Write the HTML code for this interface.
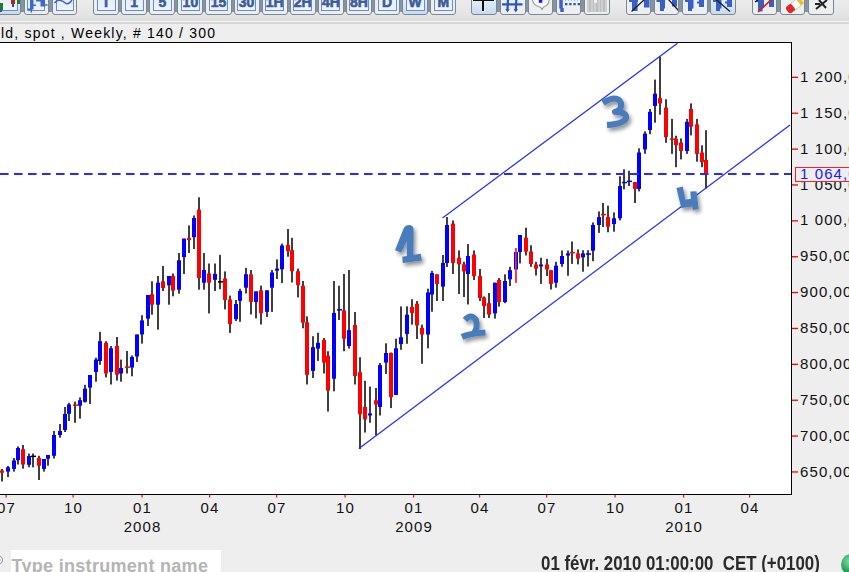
<!DOCTYPE html>
<html><head><meta charset="utf-8"><style>
html,body{margin:0;padding:0;}
body{width:849px;height:572px;overflow:hidden;position:relative;background:#eeeeee;font-family:"Liberation Sans", sans-serif;}
.tb{position:absolute;left:0;top:0;width:849px;height:21px;background:linear-gradient(#ececec,#e4e4e4 70%,#dcdcdc);}
.sep{position:absolute;left:0;top:21px;width:849px;height:1px;background:#f6f6f6;}
.sep2{position:absolute;left:0;top:22px;width:849px;height:1.6px;background:#d5d5d5;}
.strip{position:absolute;top:0;height:12px;background:#8793a0;}
.btn{position:absolute;top:-10px;height:25px;border:1px solid #7a8795;border-left-width:1.5px;border-right-width:1.5px;border-radius:0 0 3px 3px;background:#eceef0;box-sizing:border-box;overflow:hidden;}
.btn.sel{background:linear-gradient(#e2ecf7 40%,#c9dbef);}
.ibox{position:absolute;left:2.5px;right:2.5px;top:0;height:19.6px;border:1px solid #5e8edc;border-top:none;background:linear-gradient(#e2eaf6,#eef3fb);box-sizing:border-box;}
.ic{position:absolute;}
.inn{position:absolute;left:0;top:9px;width:100%;height:14px;}
.bt{position:absolute;left:0;right:0;top:-5.3px;text-align:center;font-weight:bold;font-size:14px;line-height:14px;color:#3d5c94;white-space:nowrap;-webkit-text-stroke:0.6px #3d5c94;}
.title{position:absolute;left:1px;top:25.2px;font-size:14px;line-height:16px;color:#000;white-space:nowrap;letter-spacing:1.2px;}
.pl{position:absolute;left:800px;font-size:15px;line-height:16px;color:#111;white-space:nowrap;letter-spacing:1.1px;}
.xl{position:absolute;top:500px;width:40px;text-align:center;font-size:15px;line-height:16px;color:#111;letter-spacing:1.1px;text-indent:1.1px;}
.yl{position:absolute;top:518.5px;width:60px;text-align:center;font-size:15px;line-height:16px;color:#111;letter-spacing:1.1px;text-indent:1.1px;}
.pbox{position:absolute;left:795px;top:166.5px;width:60px;height:15px;border:1.5px solid #ff2020;box-sizing:border-box;background:#eeeeee;}
.ptxt{position:absolute;left:800px;top:165.6px;font-size:15px;line-height:16px;color:#1a1aff;white-space:nowrap;letter-spacing:1.1px;}
.inp{position:absolute;left:11px;top:550px;width:210px;height:30px;background:#fff;}
.inpt{position:absolute;left:11.5px;top:555.5px;font-size:18px;line-height:20px;font-weight:bold;color:#b4b4b4;white-space:nowrap;letter-spacing:0.3px;}
.stat{position:absolute;left:541px;top:553.1px;font-size:20px;line-height:20px;font-weight:bold;color:#2a2a2a;white-space:nowrap;transform-origin:0 0;transform:scaleX(0.843);}
.ball{position:absolute;left:841px;top:553.5px;width:21px;height:21px;border-radius:50%;background:radial-gradient(circle at 40% 35%,#7fe0a0,#1a9a50 60%,#0a6a30);}
</style></head><body>
<div class="tb"></div><div class="sep"></div><div class="sep2"></div>
<div class="strip" style="left:0px;width:77px"></div><div class="strip" style="left:93px;width:363px"></div><div class="strip" style="left:471px;width:138px"></div><div class="strip" style="left:625.5px;width:110.5px"></div><div class="strip" style="left:751.5px;width:82.0px"></div><div class="btn sel box" style="left:-6px;width:27.2px"><div class="ibox"></div><div class="inn"><div class="ic" style="left:5px;top:3px;width:3px;height:7px;background:#1f7a30"></div><div class="ic" style="left:5px;top:10px;width:2px;height:2px;background:#2a55b0"></div><div class="ic" style="left:15.5px;top:0;width:4px;height:4px;background:#a82828"></div><div class="ic" style="left:17px;top:4px;width:1.5px;height:3px;background:#2a4aa0"></div><div class="ic" style="left:21.5px;top:0;width:4px;height:4px;background:#1f7a30"></div></div></div><div class="btn box" style="left:23.9px;width:25px"><div class="ibox"></div><div class="inn"><svg width="25" height="14" style="position:absolute;left:0;top:0"><path d="M5,0 L8.5,0 L8.5,9.5 L7,9.5 L7,12.5 L5.5,12.5 L5.5,10 L3,10 L3,8.5 L5,8.5 Z M8.5,4.5 L11,4.5 L11,6 L8.5,6 Z M11,0 L17,0 L17,1.5 L11,1.5 Z M15.5,0 L20,0 L20,6.5 L15.5,6.5 Z M20,4.3 L22.5,4.3 L22.5,5.8 L20,5.8 Z" fill="#3f6acb"/></svg></div></div><div class="btn box" style="left:52px;width:25px"><div class="ibox"></div><div class="inn"><svg width="25" height="14" style="position:absolute;left:0;top:0"><path d="M1.5,3 Q4,0 6.5,0 Q10,1 13,3.5 Q16,4.5 19,0" fill="none" stroke="#3a66c8" stroke-width="1.4"/></svg></div></div><div class="btn box" style="left:93.0px;width:26.2px"><div class="ibox"></div><div class="inn"><span class="bt">T</span></div></div><div class="btn box" style="left:121.1px;width:26.2px"><div class="ibox"></div><div class="inn"><span class="bt">1</span></div></div><div class="btn box" style="left:149.2px;width:26.2px"><div class="ibox"></div><div class="inn"><span class="bt">5</span></div></div><div class="btn box" style="left:177.3px;width:26.2px"><div class="ibox"></div><div class="inn"><span class="bt">10</span></div></div><div class="btn box" style="left:205.4px;width:26.2px"><div class="ibox"></div><div class="inn"><span class="bt">15</span></div></div><div class="btn box" style="left:233.5px;width:26.2px"><div class="ibox"></div><div class="inn"><span class="bt">30</span></div></div><div class="btn box" style="left:261.6px;width:26.2px"><div class="ibox"></div><div class="inn"><span class="bt">1H</span></div></div><div class="btn box" style="left:289.70000000000005px;width:26.2px"><div class="ibox"></div><div class="inn"><span class="bt">2H</span></div></div><div class="btn box" style="left:317.8px;width:26.2px"><div class="ibox"></div><div class="inn"><span class="bt">4H</span></div></div><div class="btn box" style="left:345.9px;width:26.2px"><div class="ibox"></div><div class="inn"><span class="bt">8H</span></div></div><div class="btn box" style="left:374.0px;width:26.2px"><div class="ibox"></div><div class="inn"><span class="bt">D</span></div></div><div class="btn sel box" style="left:402.1px;width:26.2px"><div class="ibox"></div><div class="inn"><span class="bt">W</span></div></div><div class="btn box" style="left:430.20000000000005px;width:26.2px"><div class="ibox"></div><div class="inn"><span class="bt">M</span></div></div><div class="btn sel" style="left:471px;width:26px"><div class="inn"><div class="ic" style="left:10.4px;top:0;width:1.8px;height:11px;background:#111"></div><div class="ic" style="left:1px;top:-1px;width:21px;height:2.2px;background:#111"></div></div></div><div class="btn" style="left:500px;width:25.5px"><div class="inn"><svg width="26" height="14" style="position:absolute;left:0;top:0"><path d="M1,4.3 L21.5,4.3 M7,0 L6.5,10 M15.3,0 L14.8,10" stroke="#2a55c8" stroke-width="2.2" fill="none"/><path d="M4.3,9 L6.5,12.5 L8.7,9 Z M12.6,9 L14.8,12.5 L17,9 Z" fill="#2a55c8"/></svg></div></div><div class="btn" style="left:528px;width:25px"><div class="inn"><svg width="26" height="14" style="position:absolute;left:0;top:0"><path d="M3,-2 L20,-2 Q21,5 14.5,7 L13,9.5 L11.5,7.2 Q4,6 3,-2 Z" fill="#fafafa" stroke="#9a9a9a" stroke-width="1.1"/><rect x="9.8" y="-1" width="3.5" height="3.8" fill="#1020ff"/></svg></div></div><div class="btn" style="left:556px;width:25px"><div class="inn"><svg width="26" height="14" style="position:absolute;left:0;top:0"><path d="M4,0 L4,8.5 M5,8 L5,12" stroke="#3a62c8" stroke-width="3.5"/><path d="M8,4.2 L24,4.2" stroke="#2f55c0" stroke-width="2.2" stroke-dasharray="2.4 1.8"/><path d="M8,0.5 L22,0.5" stroke="#8aa8e8" stroke-width="0.8" stroke-dasharray="1 2"/></svg></div></div><div class="btn" style="left:584px;width:25.5px"><div class="inn"><div class="ic" style="left:2px;top:0;width:20px;height:12px;background:repeating-linear-gradient(90deg,#cfcfcf 0 2px,#bdbdbd 2px 3.5px)"></div><div class="ic" style="left:9px;top:0;width:3px;height:3px;background:#f0f0f0"></div></div></div><div class="btn" style="left:625.5px;width:25.7px"><div class="inn"><svg width="26" height="14" style="position:absolute;left:0;top:0"><path d="M2,0 L11,0 L11,2 L10.5,2 L10.5,11 L5,11 L5,2 L2,2 Z M17,0 L22.5,0 L22.5,7.5 L17,7.5 Z" fill="#3a5fc4"/><line x1="4.5" y1="11.5" x2="18" y2="-1" stroke="#1e1e1e" stroke-width="1.3"/></svg></div></div><div class="btn" style="left:653.6px;width:25.7px"><div class="inn"><svg width="26" height="14" style="position:absolute;left:0;top:0"><path d="M1.5,0 L10,0 L10,8.5 L9,8.5 L9,11 L5,11 L5,2 L1.5,2 Z M17,0 L22,0 L22,6.5 L17,6.5 Z" fill="#3a5fc4"/><line x1="13" y1="-1" x2="23.5" y2="10.5" stroke="#1e1e1e" stroke-width="1.3"/></svg></div></div><div class="btn" style="left:682px;width:25.7px"><div class="inn"><svg width="26" height="14" style="position:absolute;left:0;top:0"><path d="M2,0 L10.5,0 L10.5,8.5 L9,8.5 L9,11 L5,11 L5,2 L2,2 Z M14,1.5 L16,1.5 L16,0 L21,0 L21,7 L16,7 L16,3.5 L14,3.5 Z" fill="#3a5fc4"/></svg></div></div><div class="btn sel" style="left:710px;width:25.7px"><div class="inn"><svg width="26" height="14" style="position:absolute;left:0;top:0"><path d="M2,0 L10.5,0 L10.5,8.5 L9,8.5 L9,11 L5,11 L5,2 L2,2 Z M14,1.5 L16,1.5 L16,0 L21,0 L21,7 L16,7 L16,3.5 L14,3.5 Z" fill="#3a5fc4"/><line x1="4.5" y1="-1" x2="19" y2="11.5" stroke="#1e1e1e" stroke-width="1.3"/></svg></div></div><div class="btn" style="left:751.5px;width:25px"><div class="inn"><svg width="26" height="14" style="position:absolute;left:0;top:0"><path d="M3,0 L11,0 L11,8 L9.5,8 L9.5,11.5 L5,11.5 L5,2 L3,2 Z M16,0 L21,0 L21,7 L16,7 Z" fill="#3a5fc4"/><path d="M2,2 L5,0" stroke="#222" stroke-width="1.4"/><line x1="5" y1="12" x2="19" y2="-1" stroke="#e01818" stroke-width="1.6"/></svg></div></div><div class="btn" style="left:780px;width:25px"><div class="inn"><svg width="26" height="14" style="position:absolute;left:0;top:0"><g transform="translate(13.5,5.5) rotate(-38)"><rect x="-9" y="-4" width="8" height="8" rx="2.5" fill="#e02828"/><rect x="-1.5" y="-4" width="7" height="8" fill="#fafafa" stroke="#bbbbbb" stroke-width="0.7"/><rect x="5.5" y="-4" width="3.5" height="8" fill="#f0c020"/></g></svg></div></div><div class="btn" style="left:808px;width:25.5px"><div class="inn"><svg width="26" height="14" style="position:absolute;left:0;top:0"><path d="M7,9 L18,0 M10,0 L17,8 M6,4 L11,4" stroke="#222" stroke-width="2" fill="none"/></svg></div></div>
<div class="title">ld, spot , Weekly, # 140 / 300</div>
<svg width="849" height="572" style="position:absolute;left:0;top:0"><rect x="0" y="42" width="792" height="453" fill="#fff"/><g fill="#000"><rect x="1.25" y="469.0" width="1.5" height="12.5"/><rect x="7.25" y="466.0" width="1.5" height="11.0"/><rect x="13.25" y="458.0" width="1.5" height="13.6"/><rect x="17.25" y="446.4" width="1.5" height="18.1"/><rect x="22.25" y="445.0" width="1.5" height="23.7"/><rect x="28.25" y="453.5" width="1.5" height="13.8"/><rect x="32.25" y="453.5" width="1.5" height="13.8"/><rect x="38.25" y="455.8" width="1.5" height="24.2"/><rect x="43.25" y="459.0" width="1.5" height="12.6"/><rect x="47.25" y="455.0" width="1.5" height="10.7"/><rect x="53.25" y="431.0" width="1.5" height="27.5"/><rect x="59.25" y="424.0" width="1.5" height="13.7"/><rect x="64.25" y="407.0" width="1.5" height="25.0"/><rect x="68.25" y="402.8" width="1.5" height="18.2"/><rect x="74.25" y="401.6" width="1.5" height="21.2"/><rect x="79.25" y="397.4" width="1.5" height="21.2"/><rect x="84.25" y="384.8" width="1.5" height="17.8"/><rect x="89.25" y="375.0" width="1.5" height="29.0"/><rect x="95.25" y="357.7" width="1.5" height="24.0"/><rect x="99.25" y="331.8" width="1.5" height="33.0"/><rect x="105.25" y="341.2" width="1.5" height="36.2"/><rect x="110.25" y="346.0" width="1.5" height="38.5"/><rect x="116.25" y="337.0" width="1.5" height="43.6"/><rect x="120.25" y="359.6" width="1.5" height="22.1"/><rect x="126.25" y="351.0" width="1.5" height="22.5"/><rect x="131.25" y="355.4" width="1.5" height="20.9"/><rect x="136.25" y="334.5" width="1.5" height="27.5"/><rect x="141.25" y="315.2" width="1.5" height="28.4"/><rect x="147.25" y="295.0" width="1.5" height="31.0"/><rect x="151.25" y="281.3" width="1.5" height="33.4"/><rect x="157.25" y="276.0" width="1.5" height="53.6"/><rect x="162.25" y="266.0" width="1.5" height="25.0"/><rect x="168.25" y="276.0" width="1.5" height="28.7"/><rect x="172.25" y="273.5" width="1.5" height="22.8"/><rect x="178.25" y="253.0" width="1.5" height="40.7"/><rect x="183.25" y="238.6" width="1.5" height="35.4"/><rect x="188.25" y="225.4" width="1.5" height="27.6"/><rect x="193.25" y="215.5" width="1.5" height="33.5"/><rect x="198.25" y="197.3" width="1.5" height="92.4"/><rect x="203.25" y="253.0" width="1.5" height="36.7"/><rect x="208.25" y="263.5" width="1.5" height="49.9"/><rect x="214.25" y="263.5" width="1.5" height="27.5"/><rect x="219.25" y="254.8" width="1.5" height="34.4"/><rect x="224.25" y="271.4" width="1.5" height="38.0"/><rect x="229.25" y="295.6" width="1.5" height="37.3"/><rect x="235.25" y="300.0" width="1.5" height="21.0"/><rect x="239.25" y="288.8" width="1.5" height="33.0"/><rect x="245.25" y="267.8" width="1.5" height="25.7"/><rect x="250.25" y="270.0" width="1.5" height="44.5"/><rect x="255.25" y="291.4" width="1.5" height="27.0"/><rect x="260.25" y="285.6" width="1.5" height="38.9"/><rect x="266.25" y="290.3" width="1.5" height="26.7"/><rect x="271.25" y="270.0" width="1.5" height="41.9"/><rect x="276.25" y="259.4" width="1.5" height="19.6"/><rect x="281.25" y="243.6" width="1.5" height="39.4"/><rect x="287.25" y="229.0" width="1.5" height="27.7"/><rect x="291.25" y="237.8" width="1.5" height="44.7"/><rect x="297.25" y="268.6" width="1.5" height="28.8"/><rect x="302.25" y="281.0" width="1.5" height="47.3"/><rect x="306.25" y="316.3" width="1.5" height="68.2"/><rect x="312.25" y="336.2" width="1.5" height="41.8"/><rect x="317.25" y="332.8" width="1.5" height="28.1"/><rect x="323.25" y="338.0" width="1.5" height="35.5"/><rect x="327.25" y="351.2" width="1.5" height="60.3"/><rect x="333.25" y="281.0" width="1.5" height="110.3"/><rect x="338.25" y="285.7" width="1.5" height="34.3"/><rect x="343.25" y="274.0" width="1.5" height="77.2"/><rect x="348.25" y="270.0" width="1.5" height="78.6"/><rect x="354.25" y="312.0" width="1.5" height="72.5"/><rect x="359.25" y="357.2" width="1.5" height="91.8"/><rect x="364.25" y="380.8" width="1.5" height="51.7"/><rect x="369.25" y="386.6" width="1.5" height="36.2"/><rect x="375.25" y="388.0" width="1.5" height="47.2"/><rect x="379.25" y="363.0" width="1.5" height="52.5"/><rect x="385.25" y="343.3" width="1.5" height="30.7"/><rect x="390.25" y="352.5" width="1.5" height="55.6"/><rect x="395.25" y="338.7" width="1.5" height="56.2"/><rect x="400.25" y="306.4" width="1.5" height="43.4"/><rect x="406.25" y="306.3" width="1.5" height="37.5"/><rect x="411.25" y="299.2" width="1.5" height="25.5"/><rect x="416.25" y="301.0" width="1.5" height="38.0"/><rect x="421.25" y="324.6" width="1.5" height="39.2"/><rect x="427.25" y="288.7" width="1.5" height="59.6"/><rect x="431.25" y="270.9" width="1.5" height="40.8"/><rect x="436.25" y="274.3" width="1.5" height="26.7"/><rect x="442.25" y="255.0" width="1.5" height="46.0"/><rect x="446.25" y="217.0" width="1.5" height="50.0"/><rect x="452.25" y="220.5" width="1.5" height="53.5"/><rect x="458.25" y="250.4" width="1.5" height="43.6"/><rect x="463.25" y="261.7" width="1.5" height="35.3"/><rect x="467.25" y="244.0" width="1.5" height="60.5"/><rect x="473.25" y="250.4" width="1.5" height="29.6"/><rect x="479.25" y="269.0" width="1.5" height="32.0"/><rect x="483.25" y="296.4" width="1.5" height="21.6"/><rect x="488.25" y="293.0" width="1.5" height="25.0"/><rect x="494.25" y="282.7" width="1.5" height="35.9"/><rect x="498.25" y="278.0" width="1.5" height="28.6"/><rect x="504.25" y="274.3" width="1.5" height="28.9"/><rect x="509.25" y="266.8" width="1.5" height="19.2"/><rect x="515.25" y="248.0" width="1.5" height="34.7" fill="#ff3030"/><rect x="519.25" y="235.0" width="1.5" height="28.4"/><rect x="525.25" y="227.7" width="1.5" height="27.8"/><rect x="530.25" y="245.2" width="1.5" height="21.6"/><rect x="535.25" y="261.8" width="1.5" height="13.7"/><rect x="540.25" y="257.7" width="1.5" height="26.2"/><rect x="546.25" y="258.9" width="1.5" height="17.1"/><rect x="550.25" y="270.2" width="1.5" height="19.3"/><rect x="555.25" y="261.8" width="1.5" height="25.9"/><rect x="561.25" y="250.5" width="1.5" height="16.3"/><rect x="567.25" y="250.5" width="1.5" height="25.2"/><rect x="571.25" y="241.5" width="1.5" height="22.4"/><rect x="577.25" y="249.4" width="1.5" height="15.0"/><rect x="582.25" y="250.2" width="1.5" height="21.5"/><rect x="587.25" y="250.2" width="1.5" height="16.3"/><rect x="592.25" y="222.4" width="1.5" height="38.8"/><rect x="598.25" y="211.4" width="1.5" height="21.5"/><rect x="602.25" y="203.0" width="1.5" height="24.0"/><rect x="607.25" y="205.7" width="1.5" height="26.6"/><rect x="613.25" y="212.4" width="1.5" height="19.3"/><rect x="619.25" y="176.3" width="1.5" height="44.1"/><rect x="623.25" y="169.3" width="1.5" height="20.0"/><rect x="628.25" y="170.8" width="1.5" height="15.2"/><rect x="634.25" y="182.0" width="1.5" height="21.0"/><rect x="638.25" y="148.3" width="1.5" height="43.1"/><rect x="644.25" y="131.3" width="1.5" height="22.5"/><rect x="649.25" y="109.0" width="1.5" height="25.2"/><rect x="654.25" y="79.6" width="1.5" height="43.1"/><rect x="659.25" y="56.5" width="1.5" height="58.2"/><rect x="665.25" y="99.2" width="1.5" height="43.6"/><rect x="671.25" y="118.9" width="1.5" height="35.0"/><rect x="675.25" y="135.7" width="1.5" height="31.5"/><rect x="680.25" y="138.4" width="1.5" height="21.0"/><rect x="686.25" y="118.9" width="1.5" height="35.0"/><rect x="690.25" y="103.4" width="1.5" height="32.0"/><rect x="696.25" y="118.9" width="1.5" height="42.8"/><rect x="701.25" y="145.3" width="1.5" height="21.9"/><rect x="705.25" y="130.2" width="1.5" height="58.3"/></g><g><rect x="0" y="470.5" width="4" height="2.2" fill="#ff0000"/><rect x="6" y="467.3" width="4" height="4.3" fill="#0000ff"/><rect x="12" y="460.5" width="4" height="8.4" fill="#0000ff"/><rect x="16" y="448.0" width="4" height="12.2" fill="#0000ff"/><rect x="21" y="449.2" width="4" height="15.3" fill="#ff0000"/><rect x="27" y="456.0" width="4" height="8.8" fill="#0000ff"/><rect x="31" y="455.6" width="5" height="1.5" fill="#000000"/><rect x="37" y="457.9" width="4" height="7.8" fill="#ff0000"/><rect x="42" y="459.0" width="4" height="9.9" fill="#0000ff"/><rect x="46" y="455.0" width="4" height="3.7" fill="#0000ff"/><rect x="52" y="435.0" width="4" height="20.8" fill="#0000ff"/><rect x="58" y="431.0" width="4" height="4.0" fill="#0000ff"/><rect x="63" y="414.0" width="4" height="16.0" fill="#0000ff"/><rect x="67" y="404.4" width="4" height="9.4" fill="#0000ff"/><rect x="73" y="404.4" width="5" height="1.5" fill="#ff0000"/><rect x="78" y="400.2" width="4" height="5.5" fill="#0000ff"/><rect x="83" y="388.7" width="4" height="13.1" fill="#0000ff"/><rect x="88" y="375.0" width="4" height="12.6" fill="#0000ff"/><rect x="94" y="359.6" width="4" height="12.3" fill="#0000ff"/><rect x="98" y="341.2" width="4" height="19.8" fill="#0000ff"/><rect x="104" y="342.8" width="4" height="30.7" fill="#ff0000"/><rect x="109" y="348.3" width="4" height="23.6" fill="#0000ff"/><rect x="115" y="346.0" width="4" height="28.7" fill="#ff0000"/><rect x="119" y="368.0" width="4" height="5.5" fill="#0000ff"/><rect x="125" y="366.4" width="5" height="1.5" fill="#ff0000"/><rect x="130" y="357.0" width="4" height="10.5" fill="#0000ff"/><rect x="135" y="334.5" width="4" height="22.0" fill="#0000ff"/><rect x="140" y="320.4" width="4" height="14.0" fill="#0000ff"/><rect x="146" y="295.0" width="4" height="23.6" fill="#0000ff"/><rect x="150" y="294.2" width="4" height="10.5" fill="#ff0000"/><rect x="156" y="282.7" width="4" height="22.0" fill="#0000ff"/><rect x="161" y="281.3" width="4" height="6.7" fill="#ff0000"/><rect x="167" y="276.0" width="4" height="9.3" fill="#0000ff"/><rect x="171" y="276.0" width="4" height="14.5" fill="#ff0000"/><rect x="177" y="260.3" width="4" height="29.4" fill="#0000ff"/><rect x="182" y="238.6" width="4" height="18.4" fill="#0000ff"/><rect x="187" y="238.0" width="4" height="2.0" fill="#ff0000"/><rect x="192" y="218.0" width="4" height="19.2" fill="#0000ff"/><rect x="197" y="209.7" width="4" height="68.3" fill="#ff0000"/><rect x="202" y="270.0" width="4" height="12.7" fill="#0000ff"/><rect x="207" y="273.5" width="4" height="9.2" fill="#ff0000"/><rect x="213" y="274.0" width="4" height="5.8" fill="#0000ff"/><rect x="218" y="281.1" width="5" height="1.5" fill="#000000"/><rect x="223" y="278.5" width="4" height="21.5" fill="#ff0000"/><rect x="228" y="299.5" width="4" height="24.7" fill="#ff0000"/><rect x="234" y="304.0" width="4" height="15.2" fill="#0000ff"/><rect x="238" y="290.9" width="4" height="9.9" fill="#0000ff"/><rect x="244" y="274.3" width="4" height="13.4" fill="#0000ff"/><rect x="249" y="274.3" width="4" height="27.6" fill="#ff0000"/><rect x="254" y="291.4" width="4" height="10.5" fill="#0000ff"/><rect x="259" y="290.3" width="4" height="22.9" fill="#ff0000"/><rect x="265" y="290.3" width="4" height="21.6" fill="#0000ff"/><rect x="270" y="272.5" width="4" height="15.2" fill="#0000ff"/><rect x="275" y="268.6" width="4" height="2.1" fill="#0000ff"/><rect x="280" y="245.5" width="4" height="23.8" fill="#0000ff"/><rect x="286" y="245.0" width="4" height="6.0" fill="#ff0000"/><rect x="290" y="250.2" width="4" height="21.0" fill="#ff0000"/><rect x="296" y="271.2" width="4" height="13.8" fill="#ff0000"/><rect x="301" y="285.7" width="4" height="37.0" fill="#ff0000"/><rect x="305" y="322.3" width="4" height="52.5" fill="#ff0000"/><rect x="311" y="347.2" width="4" height="23.7" fill="#0000ff"/><rect x="316" y="342.8" width="4" height="5.8" fill="#0000ff"/><rect x="322" y="339.9" width="4" height="22.6" fill="#ff0000"/><rect x="326" y="355.6" width="4" height="35.0" fill="#ff0000"/><rect x="332" y="313.0" width="4" height="65.7" fill="#0000ff"/><rect x="337" y="309.1" width="5" height="1.5" fill="#0000ff"/><rect x="342" y="310.5" width="4" height="28.3" fill="#ff0000"/><rect x="347" y="330.2" width="4" height="15.8" fill="#0000ff"/><rect x="353" y="325.0" width="4" height="51.1" fill="#ff0000"/><rect x="358" y="372.2" width="4" height="42.0" fill="#ff0000"/><rect x="363" y="407.0" width="4" height="12.4" fill="#ff0000"/><rect x="368" y="413.4" width="4" height="2.1" fill="#0000ff"/><rect x="374" y="400.3" width="4" height="4.2" fill="#ff0000"/><rect x="378" y="365.1" width="4" height="41.9" fill="#0000ff"/><rect x="384" y="353.0" width="4" height="9.5" fill="#0000ff"/><rect x="389" y="353.0" width="4" height="44.1" fill="#ff0000"/><rect x="394" y="348.3" width="4" height="46.6" fill="#0000ff"/><rect x="399" y="337.2" width="4" height="6.9" fill="#0000ff"/><rect x="405" y="314.7" width="4" height="19.2" fill="#0000ff"/><rect x="410" y="307.0" width="4" height="5.9" fill="#ff0000"/><rect x="415" y="303.7" width="4" height="21.8" fill="#ff0000"/><rect x="420" y="327.8" width="4" height="6.7" fill="#ff0000"/><rect x="426" y="292.5" width="4" height="42.0" fill="#0000ff"/><rect x="430" y="273.0" width="4" height="21.5" fill="#0000ff"/><rect x="435" y="274.3" width="4" height="9.7" fill="#ff0000"/><rect x="441" y="263.0" width="4" height="23.6" fill="#0000ff"/><rect x="445" y="225.0" width="4" height="38.0" fill="#0000ff"/><rect x="451" y="223.6" width="4" height="39.4" fill="#ff0000"/><rect x="457" y="257.7" width="4" height="6.6" fill="#ff0000"/><rect x="462" y="264.3" width="4" height="7.1" fill="#ff0000"/><rect x="466" y="256.0" width="4" height="18.0" fill="#0000ff"/><rect x="472" y="254.6" width="4" height="21.5" fill="#ff0000"/><rect x="478" y="276.0" width="4" height="22.0" fill="#ff0000"/><rect x="482" y="297.5" width="4" height="8.5" fill="#ff0000"/><rect x="487" y="303.2" width="4" height="11.3" fill="#ff0000"/><rect x="493" y="282.7" width="4" height="30.7" fill="#0000ff"/><rect x="497" y="280.0" width="4" height="22.0" fill="#ff0000"/><rect x="503" y="281.0" width="4" height="21.0" fill="#0000ff"/><rect x="508" y="270.2" width="4" height="9.1" fill="#0000ff"/><rect x="514" y="252.0" width="4" height="17.5" fill="#0000ff"/><rect x="518" y="235.0" width="4" height="17.0" fill="#0000ff"/><rect x="524" y="237.7" width="4" height="13.9" fill="#ff0000"/><rect x="529" y="251.6" width="4" height="12.4" fill="#ff0000"/><rect x="534" y="264.5" width="4" height="4.1" fill="#ff0000"/><rect x="539" y="264.5" width="4" height="1.9" fill="#0000ff"/><rect x="545" y="264.5" width="4" height="5.0" fill="#ff0000"/><rect x="549" y="270.2" width="4" height="13.7" fill="#ff0000"/><rect x="554" y="265.7" width="4" height="17.0" fill="#0000ff"/><rect x="560" y="256.0" width="4" height="8.0" fill="#0000ff"/><rect x="566" y="253.4" width="4" height="2.1" fill="#0000ff"/><rect x="570" y="251.9" width="5" height="1.5" fill="#ff0000"/><rect x="576" y="253.4" width="4" height="5.2" fill="#ff0000"/><rect x="581" y="253.4" width="4" height="3.9" fill="#0000ff"/><rect x="586" y="253.3" width="5" height="1.5" fill="#0000ff"/><rect x="591" y="225.0" width="4" height="25.7" fill="#0000ff"/><rect x="597" y="217.1" width="4" height="7.9" fill="#0000ff"/><rect x="601" y="213.8" width="5" height="1.5" fill="#ff0000"/><rect x="606" y="217.0" width="4" height="9.7" fill="#ff0000"/><rect x="612" y="218.3" width="4" height="5.7" fill="#0000ff"/><rect x="618" y="186.0" width="4" height="32.3" fill="#0000ff"/><rect x="622" y="181.8" width="5" height="1.5" fill="#0000ff"/><rect x="627" y="180.6" width="5" height="1.5" fill="#0000ff"/><rect x="633" y="182.0" width="4" height="6.9" fill="#ff0000"/><rect x="637" y="152.5" width="4" height="36.4" fill="#0000ff"/><rect x="643" y="133.6" width="4" height="15.8" fill="#0000ff"/><rect x="648" y="111.8" width="4" height="18.2" fill="#0000ff"/><rect x="653" y="93.7" width="4" height="12.2" fill="#0000ff"/><rect x="658" y="98.1" width="4" height="5.3" fill="#ff0000"/><rect x="664" y="107.6" width="4" height="29.4" fill="#ff0000"/><rect x="670" y="138.4" width="5" height="1.5" fill="#ff0000"/><rect x="674" y="139.0" width="4" height="6.2" fill="#ff0000"/><rect x="679" y="142.6" width="4" height="8.4" fill="#ff0000"/><rect x="685" y="121.8" width="4" height="29.2" fill="#0000ff"/><rect x="689" y="109.0" width="4" height="17.7" fill="#ff0000"/><rect x="695" y="124.4" width="4" height="29.5" fill="#ff0000"/><rect x="700" y="152.6" width="4" height="9.4" fill="#ff0000"/><rect x="704" y="160.0" width="4" height="13.5" fill="#ff0000"/></g><rect x="515" y="248" width="1.6" height="34.8" fill="#ff3030"/><line x1="442.5" y1="218" x2="677.5" y2="43.3" stroke="#1a2aff" stroke-width="1.15"/><line x1="359" y1="448.5" x2="790" y2="125" stroke="#1a2aff" stroke-width="1.15"/><line x1="0" y1="174" x2="791" y2="174" stroke="#2a2aff" stroke-width="2" stroke-dasharray="8.6 5.4"/><rect x="0" y="42" width="792" height="1" fill="#000"/><rect x="791" y="42" width="1" height="453" fill="#000"/><rect x="0" y="494" width="792" height="1" fill="#000"/><rect x="792" y="76.7" width="6" height="1.3" fill="#ff0000"/><rect x="792" y="112.6" width="6" height="1.3" fill="#ff0000"/><rect x="792" y="148.5" width="6" height="1.3" fill="#ff0000"/><rect x="792" y="184.3" width="6" height="1.3" fill="#ff0000"/><rect x="792" y="220.2" width="6" height="1.3" fill="#ff0000"/><rect x="792" y="256.1" width="6" height="1.3" fill="#ff0000"/><rect x="792" y="291.9" width="6" height="1.3" fill="#ff0000"/><rect x="792" y="327.8" width="6" height="1.3" fill="#ff0000"/><rect x="792" y="363.7" width="6" height="1.3" fill="#ff0000"/><rect x="792" y="399.6" width="6" height="1.3" fill="#ff0000"/><rect x="792" y="435.4" width="6" height="1.3" fill="#ff0000"/><rect x="792" y="471.3" width="6" height="1.3" fill="#ff0000"/><rect x="5.5" y="495" width="1.2" height="2.5" fill="#ff0000"/><rect x="72.5" y="495" width="1.2" height="2.5" fill="#ff0000"/><rect x="141.5" y="495" width="1.2" height="2.5" fill="#ff0000"/><rect x="209.0" y="495" width="1.2" height="2.5" fill="#ff0000"/><rect x="276.0" y="495" width="1.2" height="2.5" fill="#ff0000"/><rect x="344.5" y="495" width="1.2" height="2.5" fill="#ff0000"/><rect x="413.0" y="495" width="1.2" height="2.5" fill="#ff0000"/><rect x="479.0" y="495" width="1.2" height="2.5" fill="#ff0000"/><rect x="546.0" y="495" width="1.2" height="2.5" fill="#ff0000"/><rect x="614.5" y="495" width="1.2" height="2.5" fill="#ff0000"/><rect x="683.0" y="495" width="1.2" height="2.5" fill="#ff0000"/><rect x="749.0" y="495" width="1.2" height="2.5" fill="#ff0000"/><defs><filter id="sh" filterUnits="userSpaceOnUse" x="0" y="0" width="849" height="572"><feGaussianBlur in="SourceAlpha" stdDeviation="2.2"/><feOffset dx="2" dy="3" result="b"/><feComponentTransfer><feFuncA type="linear" slope="0.45"/></feComponentTransfer><feMerge><feMergeNode/><feMergeNode in="SourceGraphic"/></feMerge></filter></defs><g filter="url(#sh)" fill="#4a7cbc"><path d="M403,230 Q404.5,225 409.5,225 Q414,225.3 413.6,231 L413.4,254.8 L420.8,253.8 L421.8,260.4 L402.8,263 L402.2,256.8 L406.8,256.1 L406.8,241 L401.2,252.6 L395,250.2 Z"/></g><path d="M465,320 Q471,313 476,320 Q478,328 474,333 M462,337 Q469,333.5 485.5,332.5" fill="none" stroke="#4a7cbc" stroke-width="6" stroke-linecap="butt" stroke-linejoin="round" filter="url(#sh)"/><path d="M603,103 Q617,94 621,103 Q622,110 615,112 Q627,112 626,118 Q624,124 607,125" fill="none" stroke="#4a7cbc" stroke-width="6" stroke-linecap="butt" stroke-linejoin="round" filter="url(#sh)"/><g filter="url(#sh)" fill="#4a7cbc"><path d="M676.4,188.1 L682.9,186.4 L685.3,199.6 L690.9,198.9 L690.3,191.6 L696.5,191.2 L698.7,209.1 L693,210 L692.2,206.6 L681.3,208 Z"/></g></svg>
<div class="pl" style="top:68.8px">1 200,00</div><div class="pl" style="top:104.7px">1 150,00</div><div class="pl" style="top:140.6px">1 100,00</div><div class="pl" style="top:176.5px">1 050,00</div><div class="pl" style="top:212.4px">1 000,00</div><div class="pl" style="top:248.2px">950,00</div><div class="pl" style="top:284.1px">900,00</div><div class="pl" style="top:320.0px">850,00</div><div class="pl" style="top:355.9px">800,00</div><div class="pl" style="top:391.7px">750,00</div><div class="pl" style="top:427.6px">700,00</div><div class="pl" style="top:463.5px">650,00</div><div class="xl" style="left:-14px">07</div><div class="xl" style="left:53px">10</div><div class="xl" style="left:122px">01</div><div class="xl" style="left:189.5px">04</div><div class="xl" style="left:256.5px">07</div><div class="xl" style="left:325px">10</div><div class="xl" style="left:393.5px">01</div><div class="xl" style="left:459.5px">04</div><div class="xl" style="left:526.5px">07</div><div class="xl" style="left:595px">10</div><div class="xl" style="left:663.5px">01</div><div class="xl" style="left:729.5px">04</div><div class="yl" style="left:112px">2008</div><div class="yl" style="left:383.5px">2009</div><div class="yl" style="left:653.5px">2010</div>
<div class="pbox"></div><div class="ptxt">1 064,00</div>
<div class="inp"></div><div style="position:absolute;left:-7px;top:555px;width:8px;height:8px;border:1.6px solid #a0a0a0;border-radius:50%"></div><div class="inpt">Type instrument name</div>
<div class="stat" id="stat">01 févr. 2010 01:00:00&nbsp; CET (+0100)</div>
<div class="ball"></div>
</body></html>
